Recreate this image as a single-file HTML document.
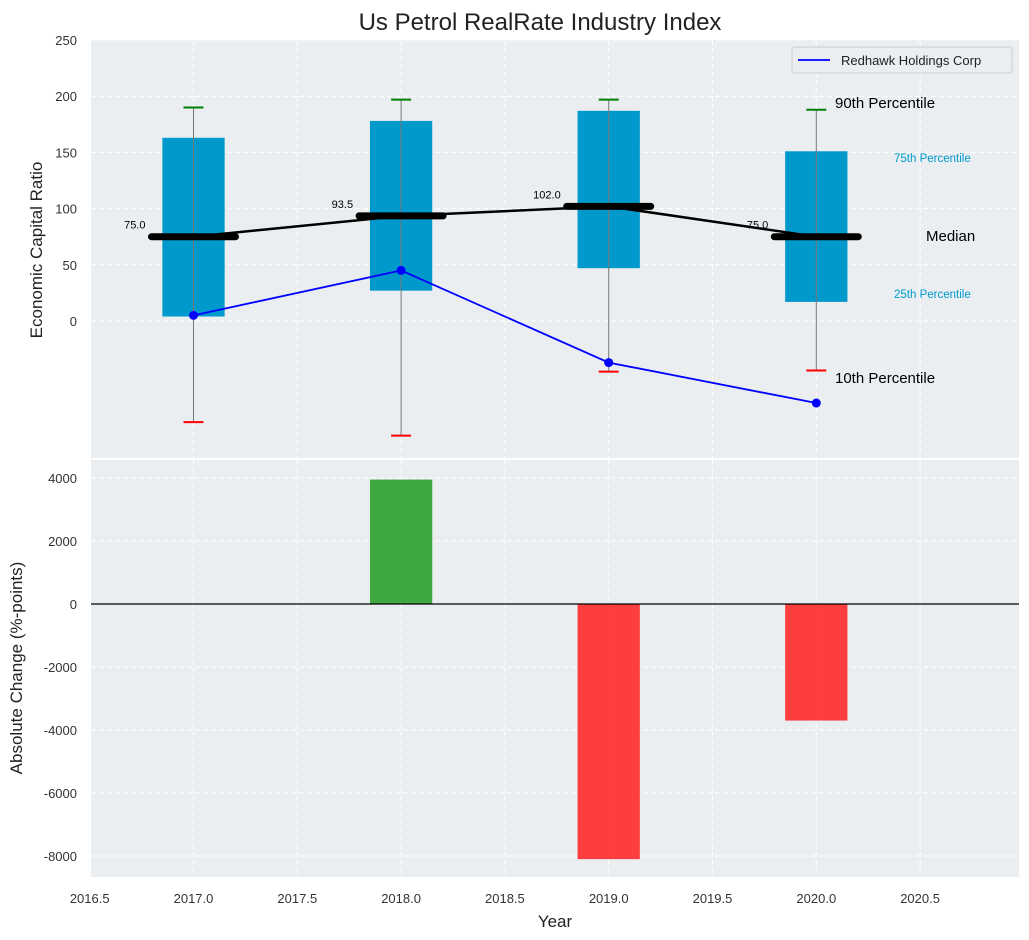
<!DOCTYPE html>
<html><head><meta charset="utf-8"><style>
body{margin:0;background:#fff;font-family:"Liberation Sans",sans-serif}
svg{display:block}
</style></head><body>
<svg id="c" width="1029" height="940" xmlns="http://www.w3.org/2000/svg"></svg>
<script>
const years=[2017,2018,2019,2020];
const p10=[-90,-102,-45,-44];
const p25=[4,27,47,17];
const medians=[75,93.5,102,75];
const p75=[163,178,187,151];
const p90=[190,197,197,188];
const company=[5,45,-37,-73];
const changes=[null,3950,-8100,-3700];
const xTicks=[2016.5,2017,2017.5,2018,2018.5,2019,2019.5,2020,2020.5];
const yTopTicks=[0,50,100,150,200,250];
const yBotTicks=[-8000,-6000,-4000,-2000,0,2000,4000];

const NS="http://www.w3.org/2000/svg";
const svg=document.getElementById('c');
const L=91,R=1019;
const x=v=>193.5+(v-2017)*207.6;
const yT=v=>321-v*1.124;
const yB=v=>604-v*0.0315;
function el(t,a,txt){const e=document.createElementNS(NS,t);for(const k in a)e.setAttribute(k,a[k]);if(txt!=null)e.textContent=txt;svg.appendChild(e);return e;}

let e=el('rect',{x:L,y:40,width:R-L,height:418,fill:'#eaeef0'});

e=el('rect',{x:L,y:460,width:R-L,height:417,fill:'#eaeef0'});

xTicks.forEach(t=>{
  el('line',{x1:x(t),x2:x(t),y1:40,y2:458,stroke:'#fff','stroke-dasharray':'5,3','stroke-width':1});
  el('line',{x1:x(t),x2:x(t),y1:460,y2:877,stroke:'#fff','stroke-dasharray':'5,3','stroke-width':1});
  e=el('text',{x:x(t),y:903,'text-anchor':'middle','font-size':13,fill:'#333'},t.toFixed(1));
  
});
yTopTicks.forEach(t=>{
  el('line',{x1:L,x2:R,y1:yT(t),y2:yT(t),stroke:'#fff','stroke-dasharray':'5,3'});
  e=el('text',{x:77,y:yT(t)+5,'text-anchor':'end','font-size':13,fill:'#333'},t);
  
});
yBotTicks.forEach(t=>{
  el('line',{x1:L,x2:R,y1:yB(t),y2:yB(t),stroke:'#fff','stroke-dasharray':'5,3'});
  e=el('text',{x:77,y:yB(t)+5,'text-anchor':'end','font-size':13,fill:'#333'},t);
  
});
el('line',{x1:L,x2:R,y1:459,y2:459,stroke:'#fff','stroke-width':2});

const bw=0.3*207.6;
years.forEach((yr,i)=>{
  e=el('rect',{x:x(yr)-bw/2,y:yT(p75[i]),width:bw,height:yT(p25[i])-yT(p75[i]),fill:'#0099cc'});
  
  e=el('line',{x1:x(yr),x2:x(yr),y1:yT(p90[i]),y2:yT(p10[i]),stroke:'#777','stroke-width':1});
  
  e=el('line',{x1:x(yr)-10,x2:x(yr)+10,y1:yT(p90[i]),y2:yT(p90[i]),stroke:'green','stroke-width':2});
  
  e=el('line',{x1:x(yr)-10,x2:x(yr)+10,y1:yT(p10[i]),y2:yT(p10[i]),stroke:'red','stroke-width':2});
  
});
e=el('polyline',{points:years.map((yr,i)=>x(yr)+','+yT(medians[i])).join(' '),fill:'none',stroke:'#000','stroke-width':2.5});

years.forEach((yr,i)=>{
  e=el('line',{x1:x(yr)-42,x2:x(yr)+42,y1:yT(medians[i]),y2:yT(medians[i]),stroke:'#000','stroke-width':7,'stroke-linecap':'round'});
  
  e=el('text',{x:x(yr)-48,y:yT(medians[i])-8,'text-anchor':'end','font-size':11,fill:'#000'},medians[i].toFixed(1));
  
});
e=el('polyline',{points:years.map((yr,i)=>x(yr)+','+yT(company[i])).join(' '),fill:'none',stroke:'#0000ff','stroke-width':1.8});

years.forEach((yr,i)=>{
  e=el('circle',{cx:x(yr),cy:yT(company[i]),r:4.5,fill:'#0000ff'});
  
});
[['90th Percentile',835,108,15,'#000'],['75th Percentile',894,162,11.5,'#0099cc'],['Median',926,241,15,'#000'],['25th Percentile',894,298,11.5,'#0099cc'],['10th Percentile',835,383,15,'#000']].forEach(a=>{
  e=el('text',{x:a[1],y:a[2],'font-size':a[3],fill:a[4]},a[0]);
  
});
e=el('rect',{x:792,y:47,width:220,height:26,rx:3,fill:'#eaeef0',stroke:'#ccc'});

el('line',{x1:798,x2:830,y1:60,y2:60,stroke:'#0000ff','stroke-width':1.8});
e=el('text',{x:841,y:65,'font-size':13,fill:'#222'},'Redhawk Holdings Corp');


years.forEach((yr,i)=>{
  if(changes[i]==null)return;
  const v=changes[i];
  e=el('rect',{x:x(yr)-bw/2,y:Math.min(yB(0),yB(v)),width:bw,height:Math.abs(yB(v)-yB(0)),fill:v>=0?'#2ca02c':'#ff2a2a','fill-opacity':0.9});
  
});
e=el('line',{x1:L,x2:R,y1:yB(0),y2:yB(0),stroke:'#000','stroke-width':1.3});


e=el('text',{x:540,y:30,'text-anchor':'middle','font-size':24,fill:'#222'},'Us Petrol RealRate Industry Index');

e=el('text',{x:555,y:927,'text-anchor':'middle','font-size':17,fill:'#222'},'Year');

e=el('text',{x:42,y:250,'text-anchor':'middle','font-size':17,fill:'#222',transform:'rotate(-90 42 250)'},'Economic Capital Ratio');

e=el('text',{x:22,y:668,'text-anchor':'middle','font-size':17,fill:'#222',transform:'rotate(-90 22 668)'},'Absolute Change (%-points)');

</script>
</body></html>
